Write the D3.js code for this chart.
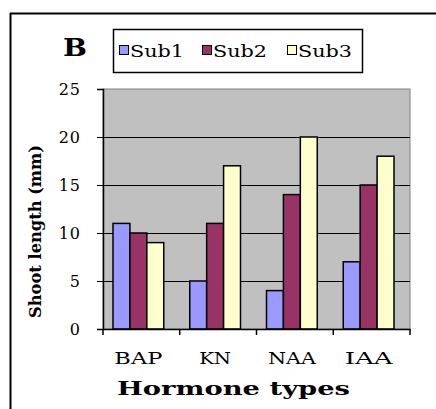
<!DOCTYPE html>
<html>
<head>
<meta charset="utf-8">
<script src="https://cdn.jsdelivr.net/npm/d3@7"></script>
<style>
  body { margin: 0; background: #fff; }
  text { font-family: "DejaVu Serif", "Liberation Serif", serif; }
</style>
</head>
<body>
<div id="d3"></div>
<script>
const hormones = ["BAP", "KN", "NAA", "IAA"]
const subs = ["Sub1", "Sub2", "Sub3"]
const sub1 = [11, 5, 4, 7]
const sub2 = [10, 11, 14, 15]
const sub3 = [9, 17, 20, 18]
const yTicks = [0, 5, 10, 15, 20, 25]
const colors = ["#9999ff", "#993366", "#ffffcc"]

const seriesValues = [sub1, sub2, sub3]
const data = hormones.map((h, i) => ({
    hormone: h,
    values: subs.map((s, j) => ({ sub: s, value: seriesValues[j][i] }))
}))

const W = 436, H = 409
const margin = {top: 89, right: 26, bottom: 80, left: 103}
const width = W - margin.left - margin.right
const height = H - margin.top - margin.bottom

const svg = d3.select("#d3").append("svg")
    .attr("width", W)
    .attr("height", H)

// outer frame (left + top lines only)
svg.append("line").attr("x1", 10.5).attr("x2", 10.5).attr("y1", 13).attr("y2", H)
    .attr("stroke", "#000").attr("stroke-width", 2)
svg.append("line").attr("x1", 10).attr("x2", W).attr("y1", 13.5).attr("y2", 13.5)
    .attr("stroke", "#000").attr("stroke-width", 2)

svg.append("text")
    .attr("x", 63).attr("y", 56)
    .attr("font-size", 24).attr("font-weight", "bold")
    .attr("textLength", 24).attr("lengthAdjust", "spacingAndGlyphs")
    .text("B")

const g = svg.append("g")
    .attr("transform", "translate(" + margin.left + "," + margin.top + ")")

const x0 = d3.scaleBand().domain(hormones).range([0, width]).padding(0)
const x1 = d3.scaleBand().domain(subs).range([10, x0.bandwidth() - 16]).padding(0)
const y = d3.scaleLinear().domain([0, 25]).range([height, 0])

// plot background
g.append("rect")
    .attr("width", width).attr("height", height)
    .attr("fill", "#c0c0c0")
    .attr("stroke", "#808080")

// gridlines
g.selectAll(".grid")
    .data(yTicks.filter(d => d > 0 && d < 25))
    .enter().append("line")
    .attr("class", "grid")
    .attr("x1", 0).attr("x2", width)
    .attr("y1", d => Math.round(y(d)) + 0.5).attr("y2", d => Math.round(y(d)) + 0.5)
    .attr("stroke", "#000")

// bars
const groups = g.selectAll(".grp")
    .data(data)
    .enter().append("g")
    .attr("class", "grp")
    .attr("transform", d => "translate(" + x0(d.hormone) + ",0)")

groups.selectAll("rect")
    .data(d => d.values)
    .enter().append("rect")
    .attr("x", d => x1(d.sub))
    .attr("width", x1.bandwidth())
    .attr("y", d => y(d.value))
    .attr("height", d => height - y(d.value))
    .attr("fill", (d, i) => colors[i])
    .attr("stroke", "#000")
    .attr("stroke-width", 1.5)

// y axis
const yAxis = g.append("g")
    .call(d3.axisLeft(y).tickValues(yTicks).tickSize(6).tickPadding(16))
yAxis.select(".domain").attr("stroke", "#000").attr("stroke-width", 1.5)
yAxis.selectAll("text")
    .attr("font-size", 16)
    .attr("font-family", "DejaVu Serif, serif")
    .attr("letter-spacing", "1px")
    .attr("fill", "#000")

// x axis
const xAxis = g.append("g")
    .attr("transform", "translate(0," + height + ")")
    .call(d3.axisBottom(x0).tickSize(0).tickPadding(23))
xAxis.select(".domain").attr("stroke", "#000").attr("stroke-width", 1.5)
xAxis.selectAll("text")
    .attr("font-size", 17)
    .attr("font-family", "DejaVu Serif, serif")
    .attr("textLength", d => d.length * 16)
    .attr("lengthAdjust", "spacingAndGlyphs")
    .attr("dx", "-3px")
    .attr("fill", "#000")
// ticks at band boundaries
xAxis.selectAll(".btick")
    .data(hormones.concat(["end"]))
    .enter().append("line")
    .attr("class", "btick")
    .attr("x1", (d, i) => i * x0.bandwidth()).attr("x2", (d, i) => i * x0.bandwidth())
    .attr("y1", 0).attr("y2", 6)
    .attr("stroke", "#000").attr("stroke-width", 1.5)

// axis titles
svg.append("text")
    .attr("x", 117).attr("y", 395)
    .attr("font-size", 19).attr("font-weight", "bold")
    .attr("textLength", 233).attr("lengthAdjust", "spacingAndGlyphs")
    .text("Hormone types")

svg.append("text")
    .attr("transform", "translate(41,318) rotate(-90)")
    .attr("font-size", 17).attr("font-weight", "bold")
    .attr("textLength", 173).attr("lengthAdjust", "spacingAndGlyphs")
    .text("Shoot length (mm)")

// legend
const legend = svg.append("g").attr("transform", "translate(113,29)")
legend.append("rect")
    .attr("x", 0.5).attr("y", 0.5)
    .attr("width", 249).attr("height", 43)
    .attr("fill", "#fff").attr("stroke", "#000").attr("stroke-width", 1.5)
const legX = [6, 89, 174]
subs.forEach((s, i) => {
    const it = legend.append("g").attr("transform", "translate(" + legX[i] + ",0)")
    it.append("rect")
        .attr("x", 0.5).attr("y", 16.5).attr("width", 9).attr("height", 9)
        .attr("fill", colors[i]).attr("stroke", "#000")
    it.append("text")
        .attr("x", 11).attr("y", 28)
        .attr("font-size", 16)
        .attr("textLength", 54).attr("lengthAdjust", "spacingAndGlyphs")
        .text(s)
})
</script>
</body>
</html>
